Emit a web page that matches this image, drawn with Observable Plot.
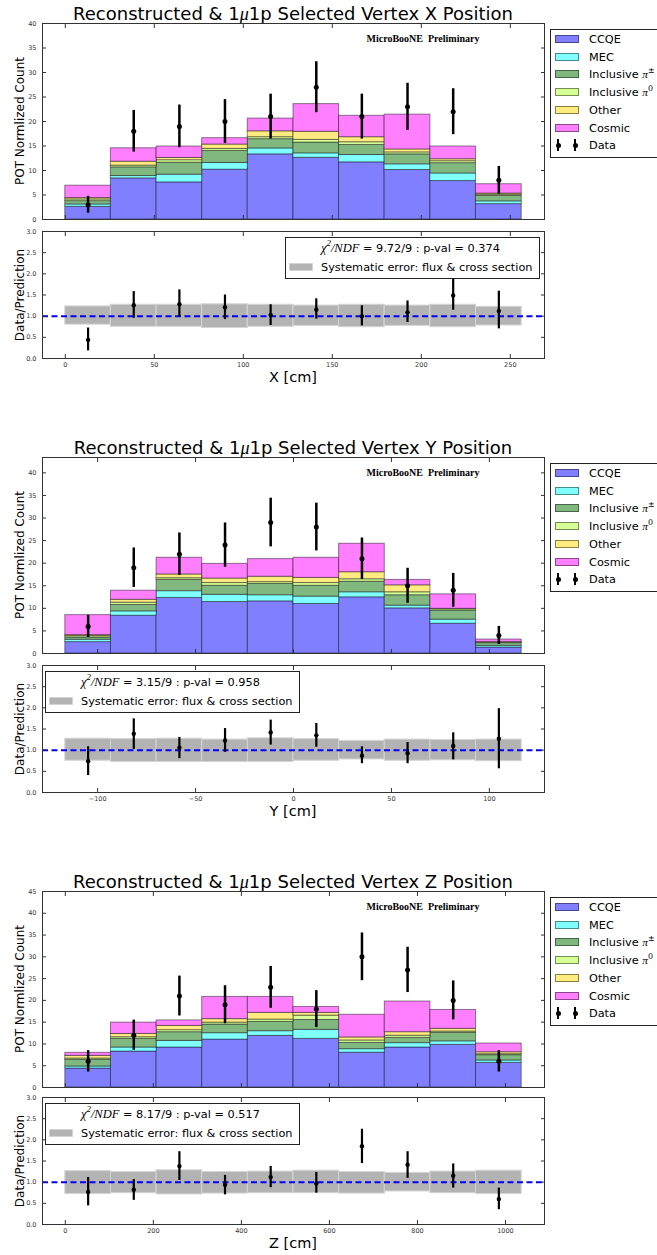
<!DOCTYPE html>
<html><head><meta charset="utf-8">
<script src="https://cdn.jsdelivr.net/npm/d3@7"></script>
<script src="https://cdn.jsdelivr.net/npm/@observablehq/plot@0.6"></script>
<style>
html,body{margin:0;padding:0;background:#fff;overflow:hidden;}
#page{position:relative;width:657px;height:1255px;overflow:hidden;font-family:"DejaVu Sans",sans-serif;color:#000;}
.abs{position:absolute;white-space:nowrap;line-height:normal;}
.ctr{transform:translate(-50%,-50%);}
.title{font-size:18px;}
.ylab{font-size:12px;transform:translate(-50%,-50%) rotate(-90deg);}
.xlab{font-size:14.5px;}
.mb{font-family:"Liberation Serif",serif;font-weight:bold;font-size:10px;}
.m{font-family:"Liberation Serif",serif;font-style:italic;}
.box{position:absolute;border:1px solid #222;background:#fff;box-sizing:border-box;}
.lt{font-size:11.3px;transform:translateY(-50%);}
.sw{position:absolute;width:24px;height:8px;box-sizing:border-box;border:1px solid rgba(0,0,0,0.45);}
sup{font-size:0.7em;line-height:0;}
</style></head><body><div id="page"></div>
<script>
// ---------- categories ----------
const components = ["CCQE", "MEC", "Inclusive π±", "Inclusive π0", "Other", "Cosmic"];
const componentLabels = ["CCQE", "MEC", "Inclusive <span class='m'>π</span><sup>±</sup>", "Inclusive <span class='m'>π</span><sup>0</sup>", "Other", "Cosmic"];
const componentColors = ["#7f7fff", "#7fffff", "#80b880", "#d6ff97", "#ffeb7f", "#ff7fff"];

// ---------- X panel ----------
const binEdgesX = [0, 25.6, 51.3, 76.9, 102.5, 128.2, 153.8, 179.4, 205.1, 230.7, 256.4];
const ccqeX = [2.6, 8.4, 7.58, 10.17, 13.3, 12.6, 11.67, 10.1, 7.85, 3.14];
const mecX = [0.47, 0.47, 1.57, 1.37, 1.2, 0.9, 1.5, 1.16, 1.55, 0.56];
const piChargedX = [0.68, 1.78, 2.45, 2.46, 1.9, 2.2, 2.03, 2.04, 2.1, 1.1];
const piZeroX = [0.35, 0.35, 0.5, 0.4, 0.4, 0.55, 0.57, 0.4, 0.4, 0.25];
const otherX = [0.27, 0.8, 0.46, 0.9, 1.2, 1.65, 1.03, 0.6, 0.4, 0.25];
const cosmicX = [2.53, 2.74, 2.34, 1.3, 2.6, 5.65, 4.36, 7.1, 2.6, 1.9];
const dataX = [3, 18, 19, 20, 21, 27, 21, 23, 22, 8];
const dataErrX = [1.73, 4.24, 4.36, 4.47, 4.58, 5.2, 4.58, 4.8, 4.69, 2.83];
const ratioX = [0.44, 1.26, 1.28, 1.21, 1.03, 1.15, 1.0, 1.09, 1.49, 1.12];
const ratioLoX = [0.18, 0.95, 0.97, 0.92, 0.78, 0.93, 0.77, 0.85, 1.14, 0.70];
const ratioHiX = [0.72, 1.58, 1.62, 1.50, 1.27, 1.41, 1.245, 1.36, 1.88, 1.59];
const sysLoX = [0.80, 0.75, 0.75, 0.72, 0.75, 0.77, 0.74, 0.77, 0.74, 0.78];
const sysHiX = [1.23, 1.27, 1.27, 1.28, 1.27, 1.25, 1.27, 1.25, 1.27, 1.22];
const xTicksX = [0, 50, 100, 150, 200, 250];
const countTicksX = [0, 5, 10, 15, 20, 25, 30, 35, 40];
const chi2X = "9.72/9", pvalX = "0.374";

// ---------- Y panel ----------
const binEdgesY = [-116.5, -93.2, -69.9, -46.6, -23.3, 0, 23.3, 46.6, 69.9, 93.2, 116.5];
const ccqeY = [2.52, 8.37, 12.3, 11.4, 11.55, 10.96, 12.44, 10.0, 6.6, 1.33];
const mecY = [0.52, 0.96, 1.5, 1.6, 1.35, 1.64, 1.12, 0.6, 0.9, 0.37];
const piChargedY = [0.51, 1.41, 2.5, 2.0, 2.5, 2.4, 2.34, 2.3, 2.0, 0.6];
const piZeroY = [0.3, 0.52, 0.37, 0.6, 0.4, 0.6, 0.54, 0.66, 0.3, 0.14];
const otherY = [0.22, 0.64, 0.83, 1.0, 1.2, 1.14, 1.56, 1.54, 0.1, 0.08];
const cosmicY = [4.43, 2.0, 3.7, 3.25, 3.9, 4.46, 6.3, 1.2, 3.2, 0.58];
const dataY = [6, 19, 22, 24, 29, 28, 21, 15, 14, 4];
const dataErrY = [2.45, 4.36, 4.69, 4.9, 5.39, 5.29, 4.58, 3.87, 3.74, 2.0];
const ratioY = [0.74, 1.39, 1.06, 1.23, 1.42, 1.35, 0.87, 0.93, 1.10, 1.27];
const ratioLoY = [0.40, 1.02, 0.80, 0.95, 1.12, 1.07, 0.68, 0.68, 0.77, 0.56];
const ratioHiY = [1.08, 1.74, 1.30, 1.51, 1.71, 1.63, 1.08, 1.18, 1.41, 1.98];
const sysLoY = [0.75, 0.72, 0.72, 0.72, 0.72, 0.75, 0.78, 0.75, 0.76, 0.74];
const sysHiY = [1.27, 1.26, 1.27, 1.25, 1.28, 1.26, 1.22, 1.25, 1.24, 1.25];
const xTicksY = [-100, -50, 0, 50, 100];
const countTicksY = [0, 5, 10, 15, 20, 25, 30, 35, 40];
const chi2Y = "3.15/9", pvalY = "0.958";

// ---------- Z panel ----------
const binEdgesZ = [0, 103.7, 207.4, 311.0, 414.7, 518.4, 622.1, 725.8, 829.4, 933.1, 1036.8];
const ccqeZ = [4.36, 8.26, 9.18, 11.0, 11.86, 11.17, 8.0, 9.18, 9.8, 5.66];
const mecZ = [0.46, 0.92, 1.52, 1.47, 1.07, 2.07, 0.8, 1.0, 0.8, 0.54];
const piChargedZ = [1.53, 1.99, 2.0, 1.99, 2.14, 2.26, 1.45, 1.22, 1.95, 1.22];
const piZeroZ = [0.31, 0.38, 0.46, 0.44, 0.53, 1.0, 0.55, 0.5, 0.3, 0.23];
const otherZ = [0.61, 0.75, 0.99, 0.8, 1.54, 0.64, 0.7, 0.8, 0.62, 0.45];
const cosmicZ = [0.69, 2.6, 1.25, 5.1, 3.66, 1.36, 5.2, 7.04, 4.33, 2.0];
const dataZ = [6, 12, 21, 19, 23, 18, 30, 27, 20, 6];
const dataErrZ = [2.45, 3.46, 4.58, 4.36, 4.8, 4.24, 5.48, 5.2, 4.47, 2.45];
const ratioZ = [0.77, 0.82, 1.38, 0.94, 1.12, 0.97, 1.85, 1.41, 1.15, 0.60];
const ratioLoZ = [0.44, 0.57, 1.04, 0.70, 0.87, 0.74, 1.44, 1.09, 0.86, 0.35];
const ratioHiZ = [1.11, 1.06, 1.72, 1.16, 1.37, 1.23, 2.25, 1.72, 1.43, 0.86];
const sysLoZ = [0.72, 0.74, 0.71, 0.73, 0.74, 0.74, 0.73, 0.78, 0.74, 0.72];
const sysHiZ = [1.26, 1.24, 1.28, 1.24, 1.25, 1.27, 1.24, 1.22, 1.25, 1.27];
const xTicksZ = [0, 200, 400, 600, 800, 1000];
const countTicksZ = [0, 5, 10, 15, 20, 25, 30, 35, 40, 45];
const chi2Z = "8.17/9", pvalZ = "0.517";

const ratioTicks = [0, 0.5, 1.0, 1.5, 2.0, 2.5, 3.0];

// ---------- panel definitions ----------
const panels = [
  {name: "X", edges: binEdgesX, stacks: [ccqeX, mecX, piChargedX, piZeroX, otherX, cosmicX], data: dataX, err: dataErrX,
   ratio: ratioX, ratioLo: ratioLoX, ratioHi: ratioHiX, sysLo: sysLoX, sysHi: sysHiX, xTicks: xTicksX, countTicks: countTicksX,
   xDomain: [-12.8, 269.2], yDomain: [0, 40], chi2: chi2X, pval: pvalX},
  {name: "Y", edges: binEdgesY, stacks: [ccqeY, mecY, piChargedY, piZeroY, otherY, cosmicY], data: dataY, err: dataErrY,
   ratio: ratioY, ratioLo: ratioLoY, ratioHi: ratioHiY, sysLo: sysLoY, sysHi: sysHiY, xTicks: xTicksY, countTicks: countTicksY,
   xDomain: [-128.15, 128.15], yDomain: [0, 43.4], chi2: chi2Y, pval: pvalY},
  {name: "Z", edges: binEdgesZ, stacks: [ccqeZ, mecZ, piChargedZ, piZeroZ, otherZ, cosmicZ], data: dataZ, err: dataErrZ,
   ratio: ratioZ, ratioLo: ratioLoZ, ratioHi: ratioHiZ, sysLo: sysLoZ, sysHi: sysHiZ, xTicks: xTicksZ, countTicks: countTicksZ,
   xDomain: [-51.84, 1088.64], yDomain: [0, 45], chi2: chi2Z, pval: pvalZ}
];

// ---------- layout ----------
const W = 657, ML = 42, MR = 113, MAIN_H = 196, RATIO_H = 127;
const mainTops = [23, 457, 891];
const ratioTops = [231, 665, 1097];
const ratioLegendLefts = [285, 45, 45];

const page = document.getElementById("page");
function addDiv(cls, html, x, y, extra) {
  const d = document.createElement("div");
  d.className = cls;
  d.innerHTML = html;
  d.style.left = x + "px";
  d.style.top = y + "px";
  if (extra) Object.assign(d.style, extra);
  page.appendChild(d);
  return d;
}
const tickStyle = {fontFamily: "DejaVu Sans", fontSize: "6.5px", color: "#333", background: "transparent", overflow: "visible"};
function frameAxes(xTicks, yTicks, yFmt, showX) {
  const none = () => "";
  return [
    Plot.axisY(yTicks, {anchor: "left", tickSize: 0, tickPadding: 6, tickFormat: yFmt, label: null}),
    Plot.axisY(yTicks, {anchor: "left", tickSize: 4, dx: 4, tickFormat: none, label: null, stroke: "#333"}),
    Plot.axisY(yTicks, {anchor: "right", tickSize: 4, dx: -4, tickFormat: none, label: null, stroke: "#333"}),
    Plot.axisX(xTicks, {anchor: "bottom", tickSize: 4, dy: -4, tickFormat: none, label: null, stroke: "#333"}),
    Plot.axisX(xTicks, {anchor: "top", tickSize: 4, dy: 4, tickFormat: none, label: null, stroke: "#333"}),
    ...(showX ? [Plot.axisX(xTicks, {anchor: "bottom", tickSize: 0, tickPadding: 4, tickFormat: d3.format("d"), label: null})] : []),
    Plot.frame({stroke: "#333", strokeWidth: 1})
  ];
}

panels.forEach((p, pi) => {
  const mainTop = mainTops[pi], ratioTop = ratioTops[pi];
  const cx = ML + (W - ML - MR) / 2;

  // title
  addDiv("abs ctr title", `Reconstructed &amp; 1<span class="m">μ</span>1p Selected Vertex ${p.name} Position`, cx, mainTop - 9.5);

  // main stacked histogram
  const rows = [];
  p.stacks.forEach((vals, k) => vals.forEach((v, i) => rows.push({x1: p.edges[i], x2: p.edges[i + 1], value: v, comp: components[k]})));
  const pts = p.data.map((d, i) => ({xc: (p.edges[i] + p.edges[i + 1]) / 2, y: d, lo: d - p.err[i], hi: d + p.err[i]}));
  const main = Plot.plot({
    width: W, height: 10 + MAIN_H + 4, marginTop: 10, marginBottom: 4, marginLeft: ML, marginRight: MR,
    x: {domain: p.xDomain}, y: {domain: p.yDomain},
    color: {domain: components, range: componentColors},
    style: tickStyle,
    marks: [
      Plot.rectY(rows, {x1: "x1", x2: "x2", y: "value", fill: "comp", stroke: "#000", strokeOpacity: 0.45, strokeWidth: 1}),
      Plot.ruleX(pts, {x: "xc", y1: "lo", y2: "hi", stroke: "#000", strokeWidth: 2.5}),
      Plot.dot(pts, {x: "xc", y: "y", r: 2.5, fill: "#000"}),
      ...frameAxes(p.xTicks, p.countTicks, d3.format("d"), false)
    ]
  });
  main.style.position = "absolute"; main.style.left = "0px"; main.style.top = (mainTop - 10) + "px";
  page.appendChild(main);

  addDiv("abs ctr mb", "MicroBooNE&nbsp;&nbsp;Preliminary", 423, mainTop + 15);
  addDiv("abs ctr ylab", "POT Normlized Count", 20, mainTop + MAIN_H / 2);

  // main legend
  const lTop = mainTop + 6;
  addDiv("box", "", 550, lTop, {width: "130px", height: "129px"});
  components.forEach((c, k) => {
    const yy = lTop + 10 + 17.7 * k;
    addDiv("sw", "", 555, yy - 4, {background: componentColors[k]});
    addDiv("abs lt", componentLabels[k], 589, yy);
  });
  const dy = lTop + 10 + 17.7 * 6;
  [558, 575].forEach(xx => {
    addDiv("abs", "", xx - 1.25, dy - 6, {width: "2.5px", height: "12px", background: "#000"});
    addDiv("abs", "", xx - 2.5, dy - 2.5, {width: "5px", height: "5px", background: "#000", borderRadius: "50%"});
  });
  addDiv("abs lt", "Data", 589, dy);

  // ratio plot
  const bins = p.ratio.map((r, i) => ({x1: p.edges[i], x2: p.edges[i + 1], xc: (p.edges[i] + p.edges[i + 1]) / 2,
    r, lo: p.ratioLo[i], hi: p.ratioHi[i], sLo: p.sysLo[i], sHi: p.sysHi[i]}));
  const ratio = Plot.plot({
    width: W, height: 6 + RATIO_H + 20, marginTop: 6, marginBottom: 20, marginLeft: ML, marginRight: MR,
    x: {domain: p.xDomain}, y: {domain: [0, 3]},
    style: tickStyle,
    marks: [
      Plot.rect(bins, {x1: "x1", x2: "x2", y1: "sLo", y2: "sHi", fill: "#b3b3b3", stroke: "#d4d4d4", strokeWidth: 1}),
      Plot.ruleY([1], {stroke: "#0000ff", strokeWidth: 2, strokeDasharray: "6,3.5"}),
      Plot.ruleX(bins, {x: "xc", y1: "lo", y2: "hi", stroke: "#000", strokeWidth: 2.2}),
      Plot.dot(bins, {x: "xc", y: "r", r: 2.2, fill: "#000"}),
      ...frameAxes(p.xTicks, ratioTicks, d3.format(".1f"), true)
    ]
  });
  ratio.style.position = "absolute"; ratio.style.left = "0px"; ratio.style.top = (ratioTop - 6) + "px";
  page.appendChild(ratio);

  addDiv("abs ctr ylab", "Data/Prediction", 20, ratioTop + RATIO_H / 2);
  addDiv("abs ctr xlab", `${p.name} [cm]`, cx, ratioTop + RATIO_H + 19);

  // ratio legend
  const bl = ratioLegendLefts[pi], bt = ratioTop + 5.5;
  addDiv("box", "", bl, bt, {width: "255px", height: "42px"});
  addDiv("abs lt", `<span class="m" style="font-size:12.5px">χ<sup>2</sup>/NDF</span> = ${p.chi2} : p-val = ${p.pval}`, bl + 36, bt + 11.5);
  addDiv("sw", "", bl + 4, bt + 30.5 - 4, {background: "#b3b3b3", border: "1px solid #d4d4d4"});
  addDiv("abs lt", "Systematic error: flux &amp; cross section", bl + 36, bt + 30.5);
});
</script>
</body></html>
